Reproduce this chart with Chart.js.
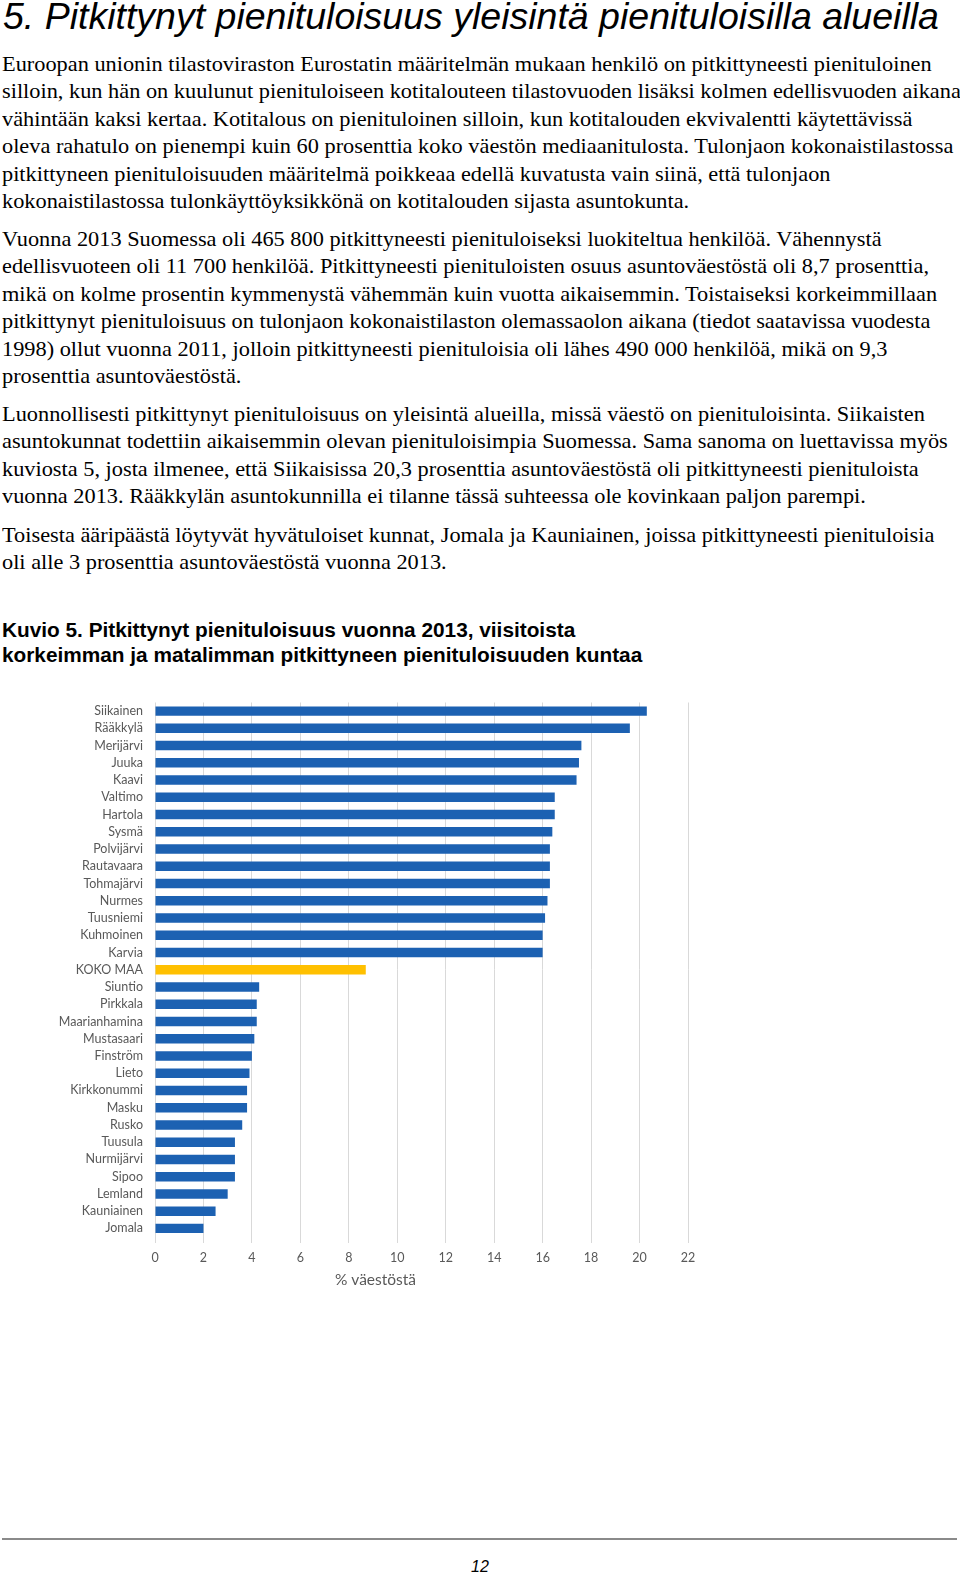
<!DOCTYPE html>
<html lang="fi">
<head>
<meta charset="utf-8">
<title>Pitkittynyt pienituloisuus</title>
<script src="https://cdn.jsdelivr.net/npm/chart.js@4/dist/chart.umd.min.js"></script>
<style>
  html, body { margin: 0; padding: 0; background: #fff; }
  body { width: 960px; height: 1572px; position: relative; overflow: hidden; color: #000; }
  h1 {
    position: absolute; left: 3px; top: -5px; margin: 0;
    font: italic 37.5px "Liberation Sans", Arial, sans-serif; font-weight: normal;
    white-space: nowrap;
  }
  p.body {
    position: absolute; left: 2px; margin: 0;
    font: 22px/27.4px "Liberation Serif", "Times New Roman", serif;
    white-space: nowrap;
    transform: scaleX(1.015); transform-origin: 0 0;
  }
  .caption {
    position: absolute; left: 2px; top: 617px; margin: 0;
    font: bold 20.8px/25px "Liberation Sans", Arial, sans-serif;
    white-space: nowrap;
  }
  #chart { position: absolute; left: 40px; top: 683px; }
  .rule { position: absolute; left: 2px; width: 955px; top: 1538px; height: 2px; background: #8a8a8a; }
  .pageno {
    position: absolute; left: 0; width: 960px; top: 1558px; text-align: center;
    font: italic 16px "Liberation Sans", Arial, sans-serif;
  }
</style>
</head>
<body>
<h1>5. Pitkittynyt pienituloisuus yleisintä pienituloisilla alueilla</h1>

<p class="body" style="top:50px">Euroopan unionin tilastoviraston Eurostatin määritelmän mukaan henkilö on pitkittyneesti pienituloinen<br>silloin, kun hän on kuulunut pienituloiseen kotitalouteen tilastovuoden lisäksi kolmen edellisvuoden aikana<br>vähintään kaksi kertaa. Kotitalous on pienituloinen silloin, kun kotitalouden ekvivalentti käytettävissä<br>oleva rahatulo on pienempi kuin 60 prosenttia koko väestön mediaanitulosta. Tulonjaon kokonaistilastossa<br>pitkittyneen pienituloisuuden määritelmä poikkeaa edellä kuvatusta vain siinä, että tulonjaon<br>kokonaistilastossa tulonkäyttöyksikkönä on kotitalouden sijasta asuntokunta.</p>

<p class="body" style="top:225px">Vuonna 2013 Suomessa oli 465 800 pitkittyneesti pienituloiseksi luokiteltua henkilöä. Vähennystä<br>edellisvuoteen oli 11 700 henkilöä. Pitkittyneesti pienituloisten osuus asuntoväestöstä oli 8,7 prosenttia,<br>mikä on kolme prosentin kymmenystä vähemmän kuin vuotta aikaisemmin. Toistaiseksi korkeimmillaan<br>pitkittynyt pienituloisuus on tulonjaon kokonaistilaston olemassaolon aikana (tiedot saatavissa vuodesta<br>1998) ollut vuonna 2011, jolloin pitkittyneesti pienituloisia oli lähes 490 000 henkilöä, mikä on 9,3<br>prosenttia asuntoväestöstä.</p>

<p class="body" style="top:400px">Luonnollisesti pitkittynyt pienituloisuus on yleisintä alueilla, missä väestö on pienituloisinta. Siikaisten<br>asuntokunnat todettiin aikaisemmin olevan pienituloisimpia Suomessa. Sama sanoma on luettavissa myös<br>kuviosta 5, josta ilmenee, että Siikaisissa 20,3 prosenttia asuntoväestöstä oli pitkittyneesti pienituloista<br>vuonna 2013. Rääkkylän asuntokunnilla ei tilanne tässä suhteessa ole kovinkaan paljon parempi.</p>

<p class="body" style="top:521px">Toisesta ääripäästä löytyvät hyvätuloiset kunnat, Jomala ja Kauniainen, joissa pitkittyneesti pienituloisia<br>oli alle 3 prosenttia asuntoväestöstä vuonna 2013.</p>

<p class="caption">Kuvio 5. Pitkittynyt pienituloisuus vuonna 2013, viisitoista<br>korkeimman ja matalimman pitkittyneen pienituloisuuden kuntaa</p>

<canvas id="chart" width="680" height="617"></canvas>

<div class="rule"></div>
<div class="pageno">12</div>

<script>
// Municipalities, top to bottom as in the figure
const municipalities = [
  "Siikainen", "Rääkkylä", "Merijärvi", "Juuka", "Kaavi", "Valtimo", "Hartola",
  "Sysmä", "Polvijärvi", "Rautavaara", "Tohmajärvi", "Nurmes", "Tuusniemi",
  "Kuhmoinen", "Karvia", "KOKO MAA", "Siuntio", "Pirkkala", "Maarianhamina",
  "Mustasaari", "Finström", "Lieto", "Kirkkonummi", "Masku", "Rusko", "Tuusula",
  "Nurmijärvi", "Sipoo", "Lemland", "Kauniainen", "Jomala"
];

// Share of population in persistent low income, %
const lowIncomeShare = [
  20.3, 19.6, 17.6, 17.5, 17.4, 16.5, 16.5,
  16.4, 16.3, 16.3, 16.3, 16.2, 16.1,
  16.0, 16.0, 8.7, 4.3, 4.2, 4.2,
  4.1, 4.0, 3.9, 3.8, 3.8, 3.6, 3.3,
  3.3, 3.3, 3.0, 2.5, 2.0
];

const wholeCountry = "KOKO MAA";
const axisTitle = "% väestöstä";
const blue = "#1c61b2";
const gold = "#ffc000";
const axisGrey = "#595959";

const barColors = municipalities.map((m) => (m === wholeCountry ? gold : blue));

// The axis title in the original sits left of the plot centre, so draw it ourselves
const axisTitlePlugin = {
  id: "axisTitle",
  afterDraw(chart) {
    const ctx = chart.ctx;
    const x = chart.scales.x.getPixelForValue(9.1);
    ctx.save();
    ctx.font = '15.5px "Lato"';
    ctx.fillStyle = axisGrey;
    ctx.textAlign = "center";
    ctx.textBaseline = "middle";
    ctx.fillText(axisTitle, x, chart.chartArea.bottom + 43);
    ctx.restore();
  },
};

new Chart(document.getElementById("chart"), {
  type: "bar",
  data: {
    labels: municipalities,
    datasets: [
      {
        label: axisTitle,
        data: lowIncomeShare,
        backgroundColor: barColors,
        borderWidth: 0,
        categoryPercentage: 1,
        barPercentage: 0.55,
      },
    ],
  },
  options: {
    indexAxis: "y",
    responsive: false,
    animation: false,
    devicePixelRatio: 1,
    layout: { padding: { top: 3, right: 32, bottom: 6, left: 0 } },
    plugins: {
      legend: { display: false },
      tooltip: { enabled: false },
    },
    scales: {
      x: {
        min: 0,
        max: 22,
        ticks: {
          stepSize: 2,
          color: axisGrey,
          padding: 7,
          font: { family: "Lato", size: 12.5 },
        },
        grid: { color: "#d9d9d9", tickLength: 6 },
        border: { display: false },
        afterFit: (scale) => { scale.height = 57; },
      },
      y: {
        ticks: {
          color: axisGrey,
          padding: 12,
          autoSkip: false,
          font: { family: "Lato", size: 12.5 },
        },
        grid: { display: false, drawTicks: false },
        border: { display: false },
        afterFit: (scale) => { scale.width = 115; },
      },
    },
  },
  plugins: [axisTitlePlugin],
});
</script>
</body>
</html>
